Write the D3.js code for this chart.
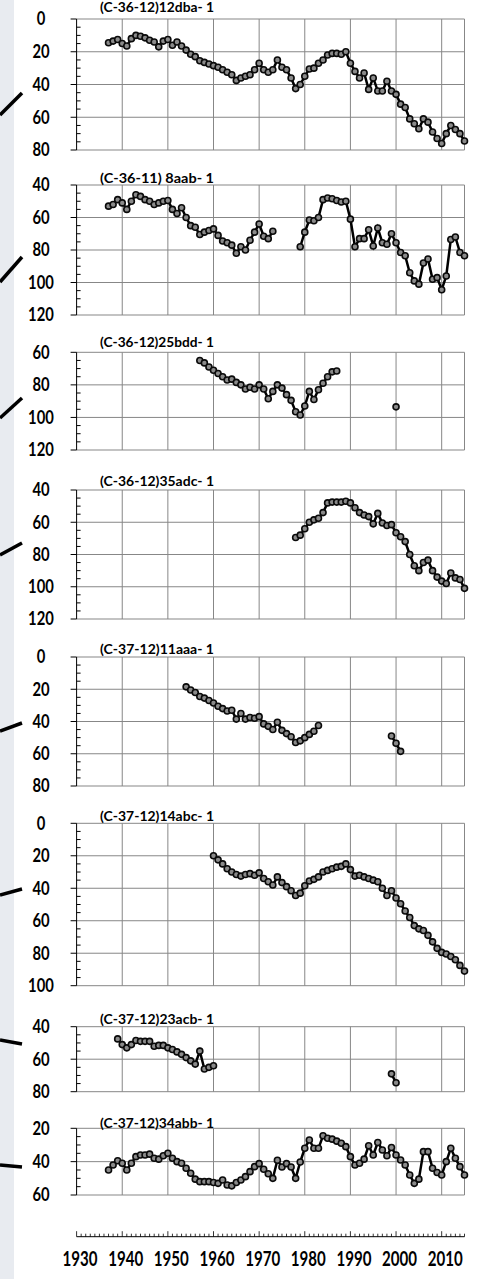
<!DOCTYPE html>
<html>
  <head>
    <meta charset="utf-8">
    <script src="https://cdn.jsdelivr.net/npm/d3@7"></script>
    <style>
      body { margin: 0; background: #fff; }
      text { font-family: Lato, "Open Sans", sans-serif; font-weight: bold; fill: #000; }
    </style>
  </head>
  <body>
    <svg id="chart"></svg>
    <script>
// hydrographs: depth to water (ft) for 8 wells, 1930-2015

// well names, one per panel
var titles = [
  "(C-36-12)12dba- 1", "(C-36-11) 8aab- 1", "(C-36-12)25bdd- 1", "(C-36-12)35adc- 1",
  "(C-37-12)11aaa- 1", "(C-37-12)14abc- 1", "(C-37-12)23acb- 1", "(C-37-12)34abb- 1"
];

// y axis range of each panel (depth grows downward)
var yLo = [0, 40, 60, 40, 0, 0, 40, 20];
var yHi = [80, 120, 120, 120, 80, 100, 80, 60];

// yearly readings, split where the record has gaps: [first year, values]
var w12dba = [[1937, [14.5, 13.5, 12.5, 15, 16.5, 12, 10, 10.5, 11.5, 13, 14, 17, 13.5, 12.5, 16, 14, 16.5,
  19, 21.5, 23, 25.5, 26.5, 27.5, 28.5, 29.5, 31, 32.5, 34, 37.5, 36, 35, 34, 31, 27, 31, 32.5, 31,
  25, 29.5, 31, 36, 42.5, 40, 35, 30.5, 30, 27, 25, 22, 21, 21, 21.5, 20, 27, 32, 36, 33, 43, 36, 44,
  44, 38, 44, 46, 52, 54, 61, 64, 67, 61, 63, 69, 73, 76, 70, 65, 67.5, 70, 74.5]]];

var w8aab = [
  [1937, [53, 52, 49, 51, 55, 50, 46, 47, 49, 50, 52, 51, 50, 49.5, 55, 57.5, 54, 60, 65, 66, 70.5, 69,
    68, 67, 71, 74.5, 75.5, 77, 82, 78, 80, 74, 69, 64, 71.5, 73, 68.5]],
  [1979, [78, 69, 61.5, 62, 60, 49, 48, 48.5, 49.5, 50.5, 50, 61, 78, 73, 73, 67.5, 77.5, 66.5, 75.5,
    76.5, 70, 75.5, 81.5, 83.5, 94, 99, 101, 88, 85.5, 98, 97, 104.5, 96, 73.5, 72, 81.5, 83.5]]
];

var w25bdd = [
  [1957, [65, 66.5, 69, 71, 73, 75, 77, 76.5, 78.5, 80, 82.5, 81.5, 82.5, 80, 82.5, 88.5, 84, 80, 82,
    86, 89.5, 96.5, 98.5, 93, 84, 89, 83, 79, 75, 72, 71.5]],
  [2000, [93.5]]
];

var w35adc = [[1978, [69.5, 68, 64, 60, 58.5, 57.5, 54, 48, 47.5, 47.5, 47.5, 47, 48, 51, 54, 55.5, 56.5,
  61, 54.5, 60.5, 62, 61.5, 66.5, 69, 72, 80, 87, 90, 85, 83.5, 90, 94, 96.5, 98, 91.5, 94.5, 95.5, 101]]];

var w11aaa = [
  [1954, [18.5, 20.5, 22, 24.5, 25.5, 27, 28.5, 30.5, 32, 33.5, 33, 38.5, 35, 38.5, 37.5, 38, 37, 41.5,
    43, 45, 40.5, 45.5, 47.5, 49.5, 53, 52, 50, 48, 46, 42.5]],
  [1999, [49, 53.5, 58.5]]
];

var w14abc = [[1960, [20, 22.5, 25, 28, 30, 31.5, 32.5, 31.5, 31, 32, 30.5, 34, 36, 38, 33, 36.5, 39, 41.5,
  44.5, 43, 38.5, 35.5, 34.5, 33, 30, 29, 28, 27, 26.5, 25, 28.5, 32.5, 32, 33, 34, 35, 36, 40, 44.5,
  41.5, 46, 49.5, 54, 58, 63, 65, 66, 69, 73, 77, 79.5, 80.5, 82, 84, 87.5, 91]]];

var w23acb = [
  [1939, [47.5, 51, 53, 51, 48.5, 49, 49, 49, 52, 51.5, 51.5, 53, 54, 55.5, 57, 59, 61, 63, 55, 66, 65, 64]],
  [1999, [69, 74.5]]
];

var w34abb = [[1937, [45, 42, 39.5, 41, 45, 41, 37, 36, 36, 35.5, 38, 38.5, 36.5, 35, 38, 40, 41, 44, 47,
  50.5, 52, 52, 52, 52.5, 53, 51, 54, 54.5, 52.5, 51, 49, 46, 43, 41.2, 44.6, 47.3, 50, 39.2, 43.2,
  41.2, 43.2, 50, 40.2, 32, 27, 32, 32, 24.5, 26, 26.5, 27.7, 29, 31, 37, 42, 41, 38.5, 30.5, 36, 28.5,
  33, 36.5, 31.5, 36, 39, 42, 48, 53, 50.5, 34, 34, 44, 46.5, 48, 40, 32, 38, 43, 48]]];

var series = [w12dba, w8aab, w25bdd, w35adc, w11aaa, w14abc, w23acb, w34abb];

var decades = [1930, 1940, 1950, 1960, 1970, 1980, 1990, 2000, 2010];

// page layout
var width = 481, height = 1279;
var panelTop = [19, 185, 352.3, 490, 657, 823.3, 1026.7, 1128.3];
var panelBottom = [150, 315, 450, 619, 786, 985.7, 1091.7, 1195];
var titleY = [12, 182.5, 346.5, 486, 653.5, 821, 1023.5, 1127.5];
// lines coming in from the map on the left
var leaders = [[0, 115, 22, 93], [0, 282, 22, 257], [0, 418, 22, 398], [0, 555, 22, 543],
  [0, 731, 22, 723], [0, 895, 22, 889], [0, 1040, 22, 1044], [0, 1165, 22, 1167]];
var gridColor = "#878787";

var svg = d3.select("#chart")
  .attr("width", width)
  .attr("height", height);

svg.append("rect")
  .attr("width", 14)
  .attr("height", height)
  .attr("fill", "#e8ebf0");

svg.append("g")
  .selectAll("line")
  .data(leaders)
  .join("line")
  .attr("x1", d => d[0]).attr("y1", d => d[1])
  .attr("x2", d => d[2]).attr("y2", d => d[3])
  .attr("stroke", "#000")
  .attr("stroke-width", 3.5);

var x = d3.scaleLinear().domain([1930, 2015]).range([76.6, 464.5]);
var x0 = x(1930);

titles.forEach(function (title, i) {
  var y = d3.scaleLinear().domain([yLo[i], yHi[i]]).range([panelTop[i], panelBottom[i]]);
  var g = svg.append("g");
  var majors = d3.range(yLo[i], yHi[i] + 1, 20);
  var minors = d3.range(yLo[i], yHi[i], 5).filter(d => d % 20 != 0);

  // grid
  g.append("g")
    .selectAll("line")
    .data(majors)
    .join("line")
    .attr("x1", x0).attr("x2", x(2015))
    .attr("y1", d => y(d)).attr("y2", d => y(d))
    .attr("stroke", gridColor);
  g.append("g")
    .selectAll("line")
    .data(decades.slice(1).concat([2015]))
    .join("line")
    .attr("x1", d => x(d)).attr("x2", d => x(d))
    .attr("y1", y(yLo[i])).attr("y2", y(yHi[i]))
    .attr("stroke", gridColor);

  // y axis
  g.append("line")
    .attr("x1", x0).attr("x2", x0)
    .attr("y1", y(yLo[i])).attr("y2", y(yHi[i]))
    .attr("stroke", "#000");
  g.append("g")
    .selectAll("line")
    .data(majors)
    .join("line")
    .attr("x1", x0 - 6).attr("x2", x0)
    .attr("y1", d => y(d)).attr("y2", d => y(d))
    .attr("stroke", "#000");
  g.append("g")
    .selectAll("line")
    .data(minors)
    .join("line")
    .attr("x1", x0).attr("x2", x0 + 4)
    .attr("y1", d => y(d)).attr("y2", d => y(d))
    .attr("stroke", "#000");
  g.append("g")
    .selectAll("text")
    .data(majors)
    .join("text")
    .attr("x", 41)
    .attr("y", d => y(d))
    .attr("dy", "0.36em")
    .attr("text-anchor", "middle")
    .attr("font-size", 18)
    .attr("textLength", d => String(d).length * 8.6)
    .attr("lengthAdjust", "spacingAndGlyphs")
    .text(d => d);

  // well name
  g.append("text")
    .attr("x", 100)
    .attr("y", titleY[i])
    .attr("font-size", 13)
    .attr("textLength", 114)
    .attr("lengthAdjust", "spacingAndGlyphs")
    .text(title);

  // readings
  var line = d3.line().x(d => x(d.year)).y(d => y(d.v));
  series[i].forEach(function (seg) {
    var pts = seg[1].map((v, k) => ({ year: seg[0] + k, v: v }));
    g.append("path")
      .datum(pts)
      .attr("d", line)
      .attr("fill", "none")
      .attr("stroke", "#000")
      .attr("stroke-width", 2.5);
    g.append("g")
      .selectAll("circle")
      .data(pts)
      .join("circle")
      .attr("cx", d => x(d.year))
      .attr("cy", d => y(d.v))
      .attr("r", 3)
      .attr("fill", "#8a8a8a")
      .attr("stroke", "#0a0a0a")
      .attr("stroke-width", 1.6);
  });
});

// shared time axis at the bottom
var axisY = 1236.7;
var ax = svg.append("g");
ax.append("line")
  .attr("x1", x0).attr("x2", x(2015))
  .attr("y1", axisY).attr("y2", axisY)
  .attr("stroke", "#000");
ax.append("g")
  .selectAll("line")
  .data(d3.range(1930, 2016))
  .join("line")
  .attr("x1", d => x(d)).attr("x2", d => x(d))
  .attr("y1", axisY)
  .attr("y2", d => axisY - (d % 10 == 0 ? 5.5 : 3))
  .attr("stroke", "#000")
  .attr("stroke-width", 0.8);
ax.append("g")
  .selectAll("text")
  .data(decades)
  .join("text")
  .attr("x", d => x(d) + 3.5)
  .attr("y", 1266)
  .attr("text-anchor", "middle")
  .attr("font-size", 20.5)
  .attr("textLength", 35)
  .attr("lengthAdjust", "spacingAndGlyphs")
  .text(d => d);
    </script>
  </body>
</html>
